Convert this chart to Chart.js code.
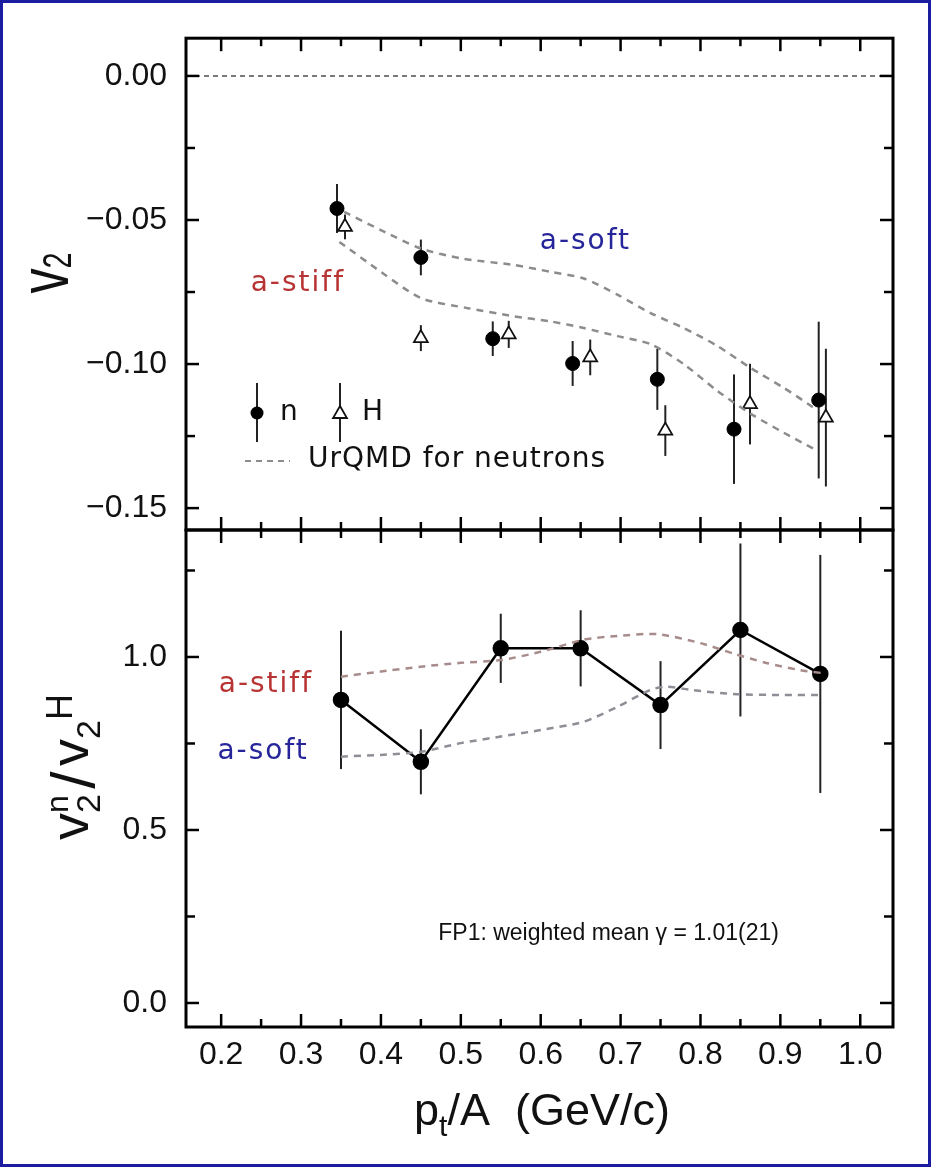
<!DOCTYPE html>
<html>
<head>
<meta charset="utf-8">
<script src="https://cdn.jsdelivr.net/npm/chart.js@4.4.0/dist/chart.umd.min.js"></script>
<style>
  html, body { margin: 0; padding: 0; background: #fff; }
  #wrap { position: relative; width: 932px; height: 1168px; overflow: hidden; background: #fff; }
  #wrap canvas { position: absolute; left: 0; top: 0; }
  #frame { position: absolute; left: 0; top: 0; width: 931px; height: 1167px; box-sizing: border-box; border: 3px solid #1c1ca0; pointer-events: none; }
</style>
</head>
<body>
<div id="wrap">
  <canvas id="topChart" width="932" height="1168"></canvas>
  <canvas id="bottomChart" width="932" height="1168"></canvas>
  <div id="frame"></div>
</div>
<script>
// ---- data ----
// top panel: v2 of neutrons (n) and hydrogen (H)
const nX = [0.345, 0.45, 0.54, 0.64, 0.746, 0.842, 0.948];
const nY = [-0.046, -0.063, -0.0912, -0.0998, -0.1053, -0.1226, -0.1125];
const nErr = [0.0085, 0.0062, 0.006, 0.0078, 0.0106, 0.019, 0.0272];

const hX = [0.355, 0.45, 0.56, 0.662, 0.756, 0.862, 0.957];
const hY = [-0.0524, -0.091, -0.0897, -0.0977, -0.1231, -0.1139, -0.1186];
const hErr = [0.0043, 0.0045, 0.0047, 0.0062, 0.0088, 0.014, 0.0239];

// UrQMD curves for neutrons (top panel)
const softX = [0.354, 0.40, 0.45, 0.50, 0.566, 0.6125, 0.654, 0.696, 0.7375, 0.779, 0.821, 0.8625, 0.904, 0.941];
const softY = [-0.0472, -0.0535, -0.0599, -0.0633, -0.0656, -0.068, -0.0703, -0.0759, -0.0823, -0.0875, -0.0937, -0.1013, -0.1082, -0.115];
const stiffX = [0.348, 0.40, 0.45, 0.509, 0.566, 0.6125, 0.654, 0.696, 0.7375, 0.779, 0.821, 0.8625, 0.904, 0.941];
const stiffY = [-0.0576, -0.068, -0.0771, -0.0806, -0.0834, -0.0852, -0.0875, -0.0903, -0.0931, -0.100, -0.1093, -0.1172, -0.1238, -0.1293];

// bottom panel: ratio v2n / v2H
const ratioX = [0.35, 0.45, 0.55, 0.65, 0.75, 0.85, 0.95];
const ratioY = [0.876, 0.697, 1.025, 1.025, 0.861, 1.078, 0.951];
const ratioErr = [0.2, 0.094, 0.1, 0.11, 0.127, 0.25, 0.344];

const rStiffX = [0.35, 0.40, 0.45, 0.50, 0.55, 0.60, 0.654, 0.696, 0.746, 0.80, 0.841, 0.884, 0.925, 0.954];
const rStiffY = [0.943, 0.958, 0.972, 0.983, 0.991, 1.015, 1.05, 1.061, 1.066, 1.04, 1.01, 0.982, 0.962, 0.953];
const rSoftX = [0.35, 0.40, 0.45, 0.50, 0.55, 0.60, 0.654, 0.696, 0.7375, 0.758, 0.7875, 0.841, 0.904, 0.954];
const rSoftY = [0.712, 0.717, 0.726, 0.751, 0.770, 0.789, 0.813, 0.856, 0.905, 0.914, 0.905, 0.893, 0.89, 0.89];

// axes / ticks
const xTickValues = [0.2, 0.3, 0.4, 0.5, 0.6, 0.7, 0.8, 0.9, 1.0];
const xTickLabels = ["0.2", "0.3", "0.4", "0.5", "0.6", "0.7", "0.8", "0.9", "1.0"];
const xMinorTicks = [0.25, 0.35, 0.45, 0.55, 0.65, 0.75, 0.85, 0.95];
const yTopTicks = [0, -0.05, -0.10, -0.15];
const yTopTickLabels = ["0.00", "\u22120.05", "\u22120.10", "\u22120.15"];
const yTopMinor = [-0.025, -0.075, -0.125];
const yBotTicks = [0, 0.5, 1.0];
const yBotTickLabels = ["0.0", "0.5", "1.0"];
const yBotMinor = [0.25, 0.75, 1.25];

const X_MIN = 0.156, X_MAX = 1.041;
const FONT = '"Liberation Sans", Arial, sans-serif';
const TXT_FONT = '"DejaVu Sans", sans-serif';

const zip = (xs, ys) => xs.map((x, i) => ({ x: x, y: ys[i] }));

// ---- drawing helpers ----
function txt(ctx, s, x, y, size, color, align, spacing, family) {
  ctx.font = size + "px " + (family || TXT_FONT);
  ctx.fillStyle = color;
  ctx.textAlign = align || "center";
  ctx.textBaseline = "middle";
  ctx.letterSpacing = (spacing || 0) + "px";
  ctx.fillText(s, x, y);
  ctx.letterSpacing = "0px";
}

// runs: {t, size, dy, w} or {sub: {...}, sup: {...}} stacked
function runWidth(ctx, r) {
  if (r.sub) {
    return Math.max(runWidth(ctx, r.sub), runWidth(ctx, r.sup));
  }
  if (r.w) return r.w;
  ctx.font = r.size + "px " + FONT;
  return ctx.measureText(r.t).width;
}
function drawRun(ctx, r, x) {
  if (r.sub) { drawRun(ctx, r.sub, x); drawRun(ctx, r.sup, x); return; }
  ctx.font = r.size + "px " + FONT;
  const off = r.w ? (r.w - ctx.measureText(r.t).width) / 2 : 0;
  ctx.fillText(r.t, x + off, r.dy || 0);
}
function drawRich(ctx, runs, bx, by, angle, sx) {
  ctx.save();
  ctx.translate(bx, by);
  ctx.rotate(angle);
  ctx.scale(sx || 1, 1);
  ctx.fillStyle = "#111";
  ctx.textAlign = "left";
  ctx.textBaseline = "alphabetic";
  const widths = runs.map(r => runWidth(ctx, r));
  let x = -widths.reduce((a, b) => a + b, 0) / 2;
  runs.forEach((r, i) => { drawRun(ctx, r, x); x += widths[i]; });
  ctx.restore();
}

function triangle(ctx, x, y, r) {
  let rad = 0;
  ctx.beginPath();
  ctx.moveTo(x + Math.sin(rad) * r, y - Math.cos(rad) * r);
  rad += 2 * Math.PI / 3;
  ctx.lineTo(x + Math.sin(rad) * r, y - Math.cos(rad) * r);
  rad += 2 * Math.PI / 3;
  ctx.lineTo(x + Math.sin(rad) * r, y - Math.cos(rad) * r);
  ctx.closePath();
}

/**
 * Frame, inward ticks, error bars and annotations for one panel
 */
function panelPlugin(cfg) {
  return {
    id: "panel",
    beforeDatasetsDraw(chart) {
      const ctx = chart.ctx, ys = chart.scales.y;
      ctx.save();
      ctx.strokeStyle = "#222";
      ctx.lineWidth = 2;
      chart.data.datasets.forEach((ds, i) => {
        if (!ds.errors) return;
        const meta = chart.getDatasetMeta(i);
        meta.data.forEach((pt, j) => {
          const v = ds.data[j].y, e = ds.errors[j];
          ctx.beginPath();
          ctx.moveTo(pt.x, ys.getPixelForValue(v + e));
          ctx.lineTo(pt.x, ys.getPixelForValue(v - e));
          ctx.stroke();
        });
      });
      ctx.restore();
    },
    afterDatasetsDraw(chart) {
      const ctx = chart.ctx, a = chart.chartArea;
      const xs = chart.scales.x, ys = chart.scales.y;
      ctx.save();
      ctx.strokeStyle = "#000";
      ctx.lineWidth = 3;
      ctx.strokeRect(a.left, a.top, a.right - a.left, a.bottom - a.top);

      const tick = (x1, y1, x2, y2) => {
        ctx.beginPath(); ctx.moveTo(x1, y1); ctx.lineTo(x2, y2); ctx.stroke();
      };
      ctx.lineWidth = 2.5;
      xTickValues.forEach(v => {
        const x = xs.getPixelForValue(v);
        tick(x, a.top, x, a.top + 13);
        tick(x, a.bottom, x, a.bottom - 13);
      });
      xMinorTicks.forEach(v => {
        const x = xs.getPixelForValue(v);
        tick(x, a.top, x, a.top + 8);
        tick(x, a.bottom, x, a.bottom - 8);
      });
      cfg.yMajor.forEach(v => {
        const y = ys.getPixelForValue(v);
        tick(a.left, y, a.left + 13, y);
        tick(a.right, y, a.right - 13, y);
      });
      cfg.yMinor.forEach(v => {
        const y = ys.getPixelForValue(v);
        tick(a.left, y, a.left + 9, y);
        tick(a.right, y, a.right - 9, y);
      });

      if (cfg.draw) cfg.draw(ctx, chart, xs, ys);
      ctx.restore();
    }
  };
}

const baseY = (ticks, labels) => ({
  type: "linear",
  afterFit: s => { s.width = 186; },
  afterBuildTicks: s => { s.ticks = ticks.map(v => ({ value: v })); },
  grid: { display: false, drawTicks: false },
  border: { display: false },
  ticks: {
    font: { family: FONT, size: 32 },
    color: "#111",
    padding: 19,
    callback: (v, i) => labels[i]
  }
});

// ---- top panel ----
const topY = baseY(yTopTicks, yTopTickLabels);
topY.min = -0.1576;
topY.max = 0.0131;

new Chart(document.getElementById("topChart"), {
  type: "scatter",
  data: {
    datasets: [
      {
        label: "zero",
        data: [{ x: X_MIN, y: 0 }, { x: X_MAX, y: 0 }],
        showLine: true, borderColor: "#7a7a7a", borderWidth: 2,
        borderDash: [5, 4], pointRadius: 0
      },
      {
        label: "a-soft",
        data: zip(softX, softY),
        showLine: true, borderColor: "#8c8c8c", borderWidth: 2.5,
        borderDash: [7, 6], pointRadius: 0, tension: 0.25
      },
      {
        label: "a-stiff",
        data: zip(stiffX, stiffY),
        showLine: true, borderColor: "#8c8c8c", borderWidth: 2.5,
        borderDash: [7, 6], pointRadius: 0, tension: 0.25
      },
      {
        label: "H",
        data: zip(hX, hY),
        errors: hErr,
        pointStyle: "triangle", pointRadius: 8,
        backgroundColor: "#fff", borderColor: "#111", borderWidth: 1.8
      },
      {
        label: "n",
        data: zip(nX, nY),
        errors: nErr,
        pointStyle: "circle", pointRadius: 7,
        backgroundColor: "#000", borderColor: "#000", borderWidth: 1
      }
    ]
  },
  options: {
    responsive: false,
    animation: false,
    events: [],
    layout: { padding: { left: 0, top: 35, right: 39, bottom: 638 } },
    plugins: { legend: { display: false }, tooltip: { enabled: false } },
    scales: {
      x: { type: "linear", min: X_MIN, max: X_MAX, display: false },
      y: topY
    }
  },
  plugins: [panelPlugin({
    yMajor: yTopTicks,
    yMinor: yTopMinor,
    draw(ctx, chart, xs, ys) {
      // legend
      ctx.strokeStyle = "#222";
      ctx.lineWidth = 2;
      ctx.beginPath(); ctx.moveTo(257, 383); ctx.lineTo(257, 442); ctx.stroke();
      ctx.beginPath(); ctx.moveTo(340, 383); ctx.lineTo(340, 442); ctx.stroke();
      ctx.fillStyle = "#000";
      ctx.beginPath(); ctx.arc(257, 413, 6.5, 0, 2 * Math.PI); ctx.fill();
      triangle(ctx, 340, 414, 8);
      ctx.fillStyle = "#fff"; ctx.fill();
      ctx.strokeStyle = "#111"; ctx.lineWidth = 1.8; ctx.stroke();
      txt(ctx, "n", 280, 413, 28, "#111", "left");
      txt(ctx, "H", 362, 413, 28, "#111", "left");
      ctx.setLineDash([6, 5]);
      ctx.strokeStyle = "#8c8c8c"; ctx.lineWidth = 2;
      ctx.beginPath(); ctx.moveTo(245, 461); ctx.lineTo(290, 461); ctx.stroke();
      ctx.setLineDash([]);
      txt(ctx, "UrQMD for neutrons", 308, 460, 28, "#111", "left", 1);
      // model labels
      txt(ctx, "a-stiff", xs.getPixelForValue(0.296), ys.getPixelForValue(-0.0721), 28, "#b83434", "center", 2);
      txt(ctx, "a-soft", xs.getPixelForValue(0.656), ys.getPixelForValue(-0.0576), 28, "#26269a", "center", 2);
      // y title: v2
      drawRich(ctx, [
        { t: "v", size: 70 },
        { t: "2", size: 40, dy: 3 }
      ], 68, 273, -Math.PI / 2, 0.72);
    }
  })]
});

// ---- bottom panel ----
const botY = baseY(yBotTicks, yBotTickLabels);
botY.min = -0.0694;
botY.max = 1.367;

new Chart(document.getElementById("bottomChart"), {
  type: "scatter",
  data: {
    datasets: [
      {
        label: "a-stiff",
        data: zip(rStiffX, rStiffY),
        showLine: true, borderColor: "#a88c8c", borderWidth: 2.5,
        borderDash: [7, 6], pointRadius: 0, tension: 0.25
      },
      {
        label: "a-soft",
        data: zip(rSoftX, rSoftY),
        showLine: true, borderColor: "#8e8e96", borderWidth: 2.5,
        borderDash: [7, 6], pointRadius: 0, tension: 0.25
      },
      {
        label: "ratio",
        data: zip(ratioX, ratioY),
        errors: ratioErr,
        showLine: true, borderColor: "#000", borderWidth: 2.5,
        pointStyle: "circle", pointRadius: 7,
        backgroundColor: "#000"
      }
    ]
  },
  options: {
    responsive: false,
    animation: false,
    events: [],
    layout: { padding: { left: 0, top: 530, right: 39, bottom: 0 } },
    plugins: { legend: { display: false }, tooltip: { enabled: false } },
    scales: {
      x: {
        type: "linear", min: X_MIN, max: X_MAX, position: "bottom",
        afterBuildTicks: s => { s.ticks = xTickValues.map(v => ({ value: v })); },
        afterFit: s => { s.height = 141; },
        grid: { display: false, drawTicks: false },
        border: { display: false },
        ticks: {
          autoSkip: false, maxRotation: 0,
          font: { family: FONT, size: 32 }, color: "#111", padding: 9,
          callback: (v, i) => xTickLabels[i]
        }
      },
      y: botY
    }
  },
  plugins: [panelPlugin({
    yMajor: yBotTicks,
    yMinor: yBotMinor,
    draw(ctx, chart, xs, ys) {
      txt(ctx, "a-stiff", xs.getPixelForValue(0.256), ys.getPixelForValue(0.919), 28, "#b83434", "center", 2);
      txt(ctx, "a-soft", xs.getPixelForValue(0.2525), ys.getPixelForValue(0.725), 28, "#26269a", "center", 2);
      txt(ctx, "FP1: weighted mean \u03b3 = 1.01(21)", xs.getPixelForValue(0.685), ys.getPixelForValue(0.2), 23, "#111", "center", 0, FONT);
      // y title: v2^n / v2^H
      drawRich(ctx, [
        { t: "v", size: 54 },
        { sub: { t: "2", size: 34, dy: 12 }, sup: { t: "n", size: 32, dy: -20 } },
        { t: "/", size: 62, dy: 6, w: 28 },
        { t: "v", size: 54 },
        { t: "2", size: 34, dy: 12, w: 19 },
        { t: "H", size: 36, dy: -16 }
      ], 88, 767, -Math.PI / 2, 1);
      // x title: pt/A (GeV/c)
      drawRich(ctx, [
        { t: "p", size: 45 },
        { t: "t", size: 30, dy: 11 },
        { t: "/A  (GeV/c)", size: 45 }
      ], 542, 1125, 0, 1);
    }
  })]
});
</script>
</body>
</html>
